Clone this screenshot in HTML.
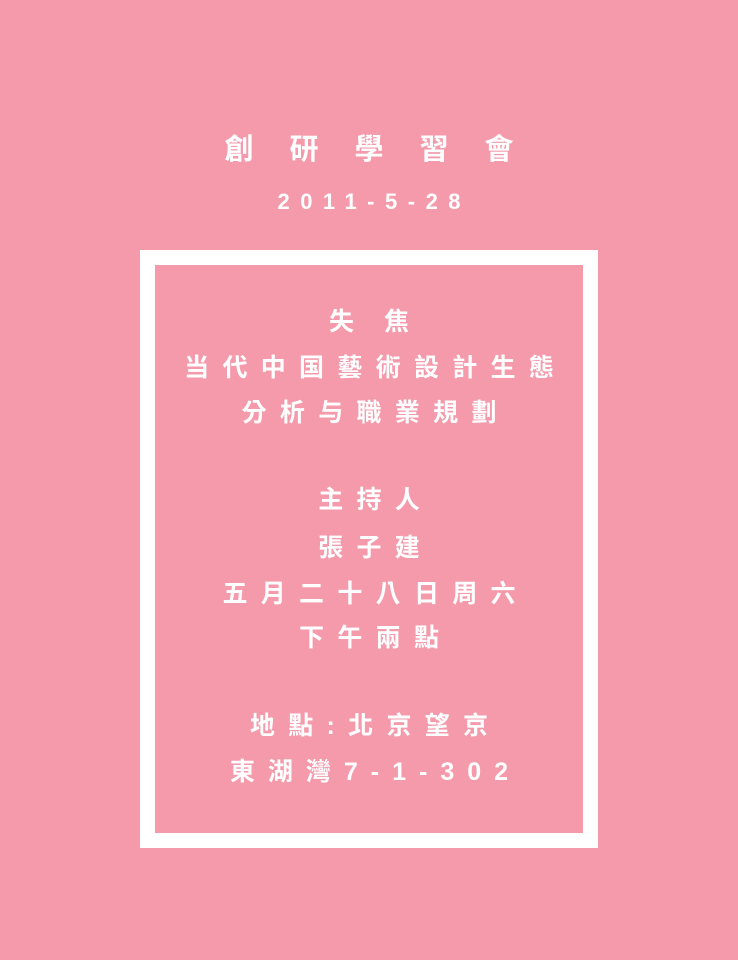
<!DOCTYPE html>
<html><head><meta charset="utf-8"><style>
body{margin:0;width:738px;height:960px;background:#f49aab;position:relative;overflow:hidden;font-family:"Liberation Sans","Noto Sans CJK TC",sans-serif;color:#fff;font-weight:bold}
.t{position:absolute;left:0;width:738px;text-align:center;white-space:nowrap;line-height:1}
.frame{position:absolute;left:140px;top:250px;width:428px;height:568px;border:15px solid #fff}
</style></head><body>
<div class="t" style="top:136px;font-size:29px;letter-spacing:36px;padding-left:36px;box-sizing:border-box">創研學習會</div>
<div class="t" style="top:191px;font-size:22px;letter-spacing:10.5px;padding-left:10.5px;box-sizing:border-box">2011-5-28</div>
<div class="frame"></div>
<div class="t" style="top:310px;font-size:25px;letter-spacing:30px;padding-left:30px;box-sizing:border-box">失焦</div>
<div class="t" style="top:356px;font-size:25px;letter-spacing:13.3px;padding-left:13.3px;box-sizing:border-box">当代中国藝術設計生態</div>
<div class="t" style="top:401px;font-size:25px;letter-spacing:13.3px;padding-left:13.3px;box-sizing:border-box">分析与職業規劃</div>
<div class="t" style="top:488px;font-size:25px;letter-spacing:13.3px;padding-left:13.3px;box-sizing:border-box">主持人</div>
<div class="t" style="top:536px;font-size:25px;letter-spacing:13.3px;padding-left:13.3px;box-sizing:border-box">張子建</div>
<div class="t" style="top:582px;font-size:25px;letter-spacing:13.3px;padding-left:13.3px;box-sizing:border-box">五月二十八日周六</div>
<div class="t" style="top:626px;font-size:25px;letter-spacing:13.3px;padding-left:13.3px;box-sizing:border-box">下午兩點</div>
<div class="t" style="top:714px;font-size:25px;letter-spacing:13.3px;padding-left:13.3px;box-sizing:border-box">地點:北京望京</div>
<div class="t" style="top:760px;font-size:25px;letter-spacing:13px;padding-left:13px;box-sizing:border-box">東湖灣7-1-302</div>
</body></html>
